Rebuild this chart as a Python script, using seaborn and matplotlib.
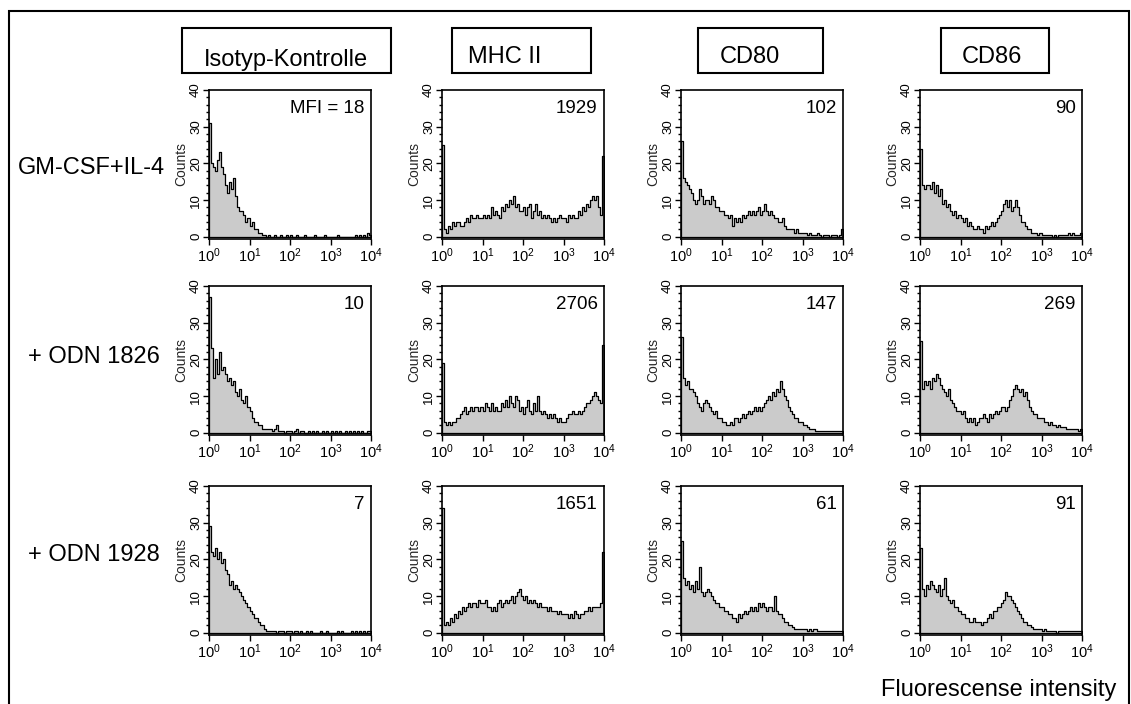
import numpy as np
import matplotlib
matplotlib.use("Agg")
import matplotlib.pyplot as plt
import seaborn as sns
from matplotlib.ticker import MultipleLocator, LogLocator, FixedLocator, FixedFormatter, NullFormatter
from matplotlib.patches import Rectangle

# ---------------- data ----------------
markers = ["Isotyp-Kontrolle", "MHC II", "CD80", "CD86"]
conditions = ["GM-CSF+IL-4", "+ ODN 1826", "+ ODN 1928"]
mfi_labels = [["MFI = 18", "1929", "102", "90"],
              ["10", "2706", "147", "269"],
              ["7", "1651", "61", "91"]]
x_tick_labels = [r"$10^{0}$", r"$10^{1}$", r"$10^{2}$", r"$10^{3}$", r"$10^{4}$"]
y_tick_labels = ["0", "10", "20", "30", "40"]
x_axis_title = "Fluorescense intensity"

# counts per channel (80 channels, 0.05 decade each, 10^0 .. 10^4)
iso_gm = [31, 20, 19, 18, 21, 23, 19, 17, 14, 12, 15, 13, 16, 11, 8, 7, 7, 6, 4, 5,
          3, 4, 2, 2, 1, 1, 0.5, 0.5, 0, 0.5, 0, 0, 0.5, 0, 0, 0.5, 0, 0, 0.5, 0,
          0.5, 0, 0, 0.5, 0, 0, 0, 0.5, 0, 0, 0, 0, 0.5, 0, 0, 0, 0, 0.5, 0, 0,
          0, 0, 0, 0.5, 0, 0, 0, 0, 0, 0, 0, 0, 0.5, 0, 0.5, 0, 0.5, 0, 1, 0.5]
mhc_gm = [25, 2, 1, 3, 2, 4, 3, 4, 4, 3, 3, 4, 5, 4, 6, 5, 5, 6, 5, 5,
          6, 5, 6, 5, 8, 6, 7, 6, 5, 8, 7, 9, 8, 10, 9, 11, 8, 9, 7, 7,
          8, 6, 8, 9, 5, 7, 9, 6, 7, 5, 6, 5, 6, 5, 4, 5, 4, 5, 6, 5,
          5, 4, 6, 5, 6, 5, 5, 7, 6, 8, 7, 9, 8, 10, 11, 10, 11, 8, 6, 22]
cd80_gm = [26, 16, 15, 14, 13, 12, 10, 9, 10, 13, 11, 9, 10, 10, 9, 11, 10, 8, 8, 7,
           7, 6, 6, 5, 6, 3, 5, 4, 5, 4, 6, 5, 6, 7, 6, 7, 6, 7, 8, 6,
           7, 9, 7, 6, 7, 6, 5, 5, 4, 4, 5, 3, 2, 2, 2, 2, 1, 2, 1, 1,
           1, 1, 0.5, 1, 0.5, 0.5, 0.5, 1, 0.5, 0, 0.5, 0.5, 0.5, 0, 0.5, 0.5, 0.5, 0, 0.5, 2]
cd86_gm = [24, 14, 13, 14, 14, 13, 15, 12, 14, 11, 13, 9, 10, 8, 9, 7, 6, 7, 5, 6,
           5, 4, 5, 3, 4, 3, 2, 2, 3, 2, 2, 1, 3, 2, 3, 4, 3, 4, 5, 6,
           7, 9, 10, 8, 10, 7, 8, 10, 8, 6, 4, 4, 3, 2, 2, 1, 1, 1, 0.5, 1,
           0.5, 0.5, 0.5, 0.5, 0.5, 0, 0.5, 0, 0.5, 0.5, 0.5, 0.5, 0.5, 1, 0.5, 1, 0.5, 0.5, 0.5, 1]

iso_1826 = [37, 23, 15, 20, 16, 22, 17, 18, 16, 14, 15, 13, 14, 11, 10, 12, 9, 8, 10, 7,
            6, 4, 3, 3, 2, 2, 1, 1, 1, 1, 1, 0.5, 1, 2, 0.5, 0.5, 0.5, 0, 0.5, 0.5,
            0.5, 0, 0.5, 1, 0, 0.5, 0.5, 0, 0, 0.5, 0, 0.5, 0, 0.5, 0, 0, 0.5, 0, 0.5, 0,
            0.5, 0, 0.5, 0, 0.5, 0, 0, 0.5, 0, 0.5, 0, 0.5, 0, 0.5, 0, 0.5, 0, 0, 0.5, 0.5]
mhc_1826 = [19, 3, 2, 3, 2, 3, 3, 4, 4, 5, 6, 7, 5, 6, 7, 6, 7, 7, 6, 7,
            6, 8, 7, 6, 8, 6, 7, 6, 6, 8, 7, 9, 7, 10, 8, 7, 10, 9, 6, 7,
            5, 7, 9, 6, 5, 8, 6, 10, 6, 5, 6, 5, 4, 5, 4, 5, 4, 3, 4, 3,
            3, 4, 5, 5, 6, 5, 5, 6, 5, 6, 7, 8, 8, 9, 10, 11, 10, 9, 8, 24]
cd80_1826 = [26, 15, 13, 14, 12, 12, 11, 10, 8, 7, 6, 8, 9, 8, 7, 6, 5, 6, 4, 4,
             3, 3, 2, 2, 3, 2, 4, 4, 3, 4, 5, 4, 5, 6, 5, 6, 7, 6, 7, 6,
             7, 8, 9, 10, 9, 11, 10, 12, 11, 14, 12, 10, 9, 7, 6, 5, 4, 4, 3, 3,
             2, 2, 1.5, 1, 1, 1, 0.5, 0.5, 0.5, 0.5, 0.5, 0.5, 0.5, 0.5, 0.5, 0.5, 0.5, 0.5, 0.5, 0.5]
cd86_1826 = [25, 12, 14, 13, 14, 12, 15, 14, 16, 15, 13, 12, 11, 10, 12, 9, 8, 7, 6, 6,
             5, 6, 4, 3, 4, 3, 4, 2, 3, 4, 4, 5, 4, 3, 5, 4, 5, 6, 5, 6,
             7, 7, 6, 7, 9, 10, 12, 13, 12, 11, 12, 10, 11, 9, 7, 6, 5, 5, 4, 4,
             4, 3, 3, 2, 3, 2, 2, 1.5, 2, 1.5, 1.5, 1.5, 1, 1, 1, 1, 1, 1, 0.5, 1]

iso_1928 = [29, 22, 21, 23, 20, 22, 19, 20, 17, 16, 13, 14, 12, 13, 12, 11, 10, 9, 8, 7,
            6, 5, 4, 4, 3, 2, 2, 1, 0.5, 0.5, 0.5, 0.5, 0.5, 0, 0.5, 0.5, 0.5, 0, 0.5, 0.5,
            0.5, 0, 0.5, 0.5, 0, 0.5, 0, 0, 0.5, 0, 0.5, 0, 0, 0, 0, 0.5, 0, 0, 0.5, 0,
            0, 0, 0, 0.5, 0, 0.5, 0, 0, 0, 0, 0.5, 0, 0.5, 0, 0.5, 0, 0.5, 0, 0.5, 0.5]
mhc_1928 = [34, 2, 3, 2, 4, 3, 5, 4, 6, 5, 7, 6, 7, 8, 7, 8, 8, 7, 9, 8,
            8, 9, 7, 7, 6, 7, 6, 8, 9, 7, 8, 9, 8, 9, 10, 8, 10, 11, 12, 10,
            9, 10, 8, 9, 8, 9, 8, 7, 8, 7, 7, 7, 6, 7, 6, 6, 6, 5, 6, 5,
            5, 5, 4, 5, 4, 6, 5, 4, 5, 5, 6, 6, 7, 6, 7, 7, 7, 7, 8, 22]
cd80_1928 = [25, 15, 13, 14, 12, 13, 11, 14, 12, 18, 11, 10, 11, 12, 11, 10, 9, 8, 8, 7,
             7, 6, 6, 5, 5, 4, 4, 3, 5, 4, 5, 6, 5, 6, 7, 6, 7, 6, 8, 7,
             8, 7, 6, 7, 7, 6, 10, 6, 5, 5, 4, 3, 3, 2, 2, 1.5, 1, 1, 1, 1,
             1, 1, 0.5, 1, 0.5, 1, 1, 0.5, 0.5, 0.5, 0.5, 0.5, 0.5, 0.5, 0.5, 0.5, 0.5, 0.5, 0.5, 0.5]
cd86_1928 = [23, 12, 10, 13, 12, 14, 13, 12, 11, 13, 10, 12, 15, 10, 9, 8, 9, 7, 7, 6,
             5, 5, 4, 4, 3, 3, 4, 3, 3, 3, 2, 3, 3, 4, 5, 4, 6, 6, 7, 7,
             8, 9, 11, 10, 10, 9, 8, 7, 6, 5, 4, 3, 3, 2, 2, 1.5, 1, 1, 1, 1,
             0.5, 1, 0.5, 0.5, 0.5, 0.5, 0.5, 0, 0.5, 0.5, 0.5, 0.5, 0.5, 0.5, 0.5, 0.5, 0.5, 0.5, 0.5, 0.5]

panels = [[iso_gm, mhc_gm, cd80_gm, cd86_gm],
          [iso_1826, mhc_1826, cd80_1826, cd86_1826],
          [iso_1928, mhc_1928, cd80_1928, cd86_1928]]

# ---------------- style / layout ----------------
sns.set_theme(style="white")
plt.rcParams["font.family"] = ["Liberation Sans", "DejaVu Sans"]
plt.rcParams["mathtext.fontset"] = "custom"
plt.rcParams["mathtext.rm"] = "Liberation Sans"
plt.rcParams["mathtext.it"] = "Liberation Sans:italic"

W, H = 1131, 704
fig = plt.figure(figsize=(W / 100, H / 100), dpi=100)
fig.patch.set_facecolor("white")

def fx(px):
    return px / W

def fy(py):
    return 1 - py / H

n_ch = 80
channel_decades = (np.arange(n_ch) + 0.5) * 4.0 / n_ch
col_left = [209, 442, 681, 920]
row_top = [90, 286, 486]
ax_w, ax_h = 162, 149

for r in range(3):
    for c in range(4):
        ax = fig.add_axes([fx(col_left[c]), fy(row_top[r] + ax_h), ax_w / W, ax_h / H])
        sns.histplot(x=10 ** channel_decades, weights=panels[r][c], bins=n_ch, binrange=(0, 4),
                     log_scale=True, element="step", fill=True, facecolor="#cbcbcb",
                     edgecolor="black", linewidth=0.9, alpha=1, ax=ax)
        ax.set_xlim(1, 1e4)
        ax.set_ylim(-0.6, 40)
        ax.xaxis.set_major_locator(FixedLocator([1, 10, 100, 1000, 10000]))
        ax.xaxis.set_major_formatter(FixedFormatter(x_tick_labels))
        ax.xaxis.set_minor_locator(LogLocator(base=10, subs=np.arange(2, 10)))
        ax.xaxis.set_minor_formatter(NullFormatter())
        ax.yaxis.set_major_locator(FixedLocator([0, 10, 20, 30, 40]))
        ax.yaxis.set_major_formatter(FixedFormatter(y_tick_labels))
        ax.yaxis.set_minor_locator(MultipleLocator(2))
        ax.tick_params(which="both", direction="out", bottom=True, left=True,
                       top=False, right=False, colors="black", width=1)
        ax.tick_params(which="major", length=4)
        ax.tick_params(which="minor", length=2.5)
        ax.tick_params(axis="x", labelsize=10.5, pad=1)
        ax.tick_params(axis="y", labelsize=9.5, pad=1, labelrotation=90)
        for lab in ax.get_yticklabels():
            lab.set_va("center")
        ax.set_xlabel("")
        ax.set_ylabel("Counts", fontsize=10, labelpad=1)
        for s in ax.spines.values():
            s.set_color("black")
            s.set_linewidth(1.2)
        ax.text(0.96, 0.93, mfi_labels[r][c], transform=ax.transAxes, ha="right", va="top",
                fontsize=13.5, color="black")

# column headers in boxes
box_x = [(182, 391), (452, 591), (698, 823), (941, 1049)]
text_cx = [286, 505, 750, 992]
text_base = [66, 63, 63, 63]
for (x0, x1), tx, tb, name in zip(box_x, text_cx, text_base, markers):
    fig.patches.append(Rectangle((fx(x0), fy(73)), (x1 - x0) / W, 45 / H, transform=fig.transFigure,
                                 fill=False, edgecolor="black", linewidth=1.5))
    fig.text(fx(tx), fy(tb), name, ha="center", va="baseline", fontsize=17, color="black")

# row labels
row_y = [168, 357, 555]
row_right = [165, 160, 160]
for lab, yy, xr in zip(conditions, row_y, row_right):
    fig.text(fx(xr), fy(yy), lab, ha="right", va="center", fontsize=17, color="black")

fig.text(fx(999), fy(690), x_axis_title, ha="center", va="center", fontsize=17, color="black")

# outer frame (bottom edge runs off the canvas)
fig.patches.append(Rectangle((fx(9), fy(720)), (1129 - 9) / W, (720 - 11) / H, transform=fig.transFigure,
                             fill=False, edgecolor="black", linewidth=1.5))

fig.savefig("out.png", dpi=100)
